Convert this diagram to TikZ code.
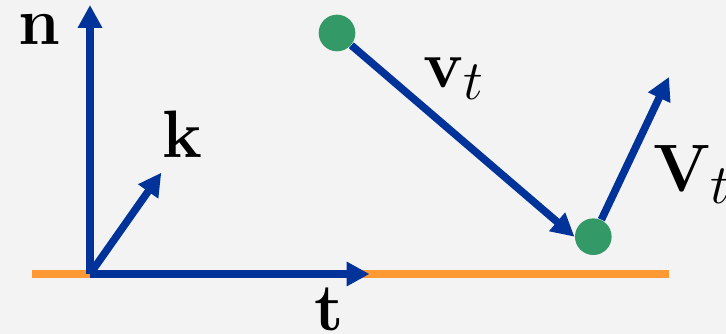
\documentclass[tikz,border=0pt]{standalone}
\usetikzlibrary{arrows.meta}
\definecolor{bgc}{RGB}{243,243,243}
\definecolor{vblue}{RGB}{0,51,153}
\definecolor{gorange}{RGB}{255,153,51}
\definecolor{dgreen}{RGB}{51,153,102}
\begin{document}
\begin{tikzpicture}[x=0.371pt,y=-0.371pt,
  vec/.style={draw=vblue,line width=2.8pt,-{Triangle[length=8.5pt,width=8.6pt]}},
  ground/.style={draw=gorange,line width=2.8pt},
  dot/.style={circle,fill=dgreen,inner sep=0pt,minimum size=13.6pt},
  lbl/.style={inner sep=0pt,anchor=base west,font=\Huge}]
\fill[bgc] (0,0) rectangle (726,334);
\useasboundingbox (0,0) rectangle (726,334);
\coordinate (gl) at (32,274);
\coordinate (gr) at (669,274);
\coordinate (O) at (90,274);
\coordinate (ntip) at (90,5);
\coordinate (ttip) at (369.5,274);
\coordinate (ktip) at (161.3,172.7);
\coordinate (Vtip) at (669,77);
\node[dot] (d1) at (337,33) {};
\node[dot] (d2) at (593.3,236.7) {};
\draw[ground] (gl) -- (gr);
\draw[vec] (O) -- (ntip);
\draw[vec] (O) -- (ttip);
\draw[vec] (O) -- (ktip);
\draw[vec] (d1) -- (d2.west);
\draw[vec] (d2) -- (Vtip);
\node[lbl] (ln) at (18,45) {$\mathbf{n}$};
\node[lbl] (lk) at (162,158) {$\mathbf{k}$};
\node[lbl] (lt) at (314,330) {$\mathbf{t}$};
\node[lbl] (lv) at (423,88) {$\mathbf{v}_t$};
\node[lbl] (lV) at (653,192) {$\mathbf{V}_t$};
\end{tikzpicture}
\end{document}
